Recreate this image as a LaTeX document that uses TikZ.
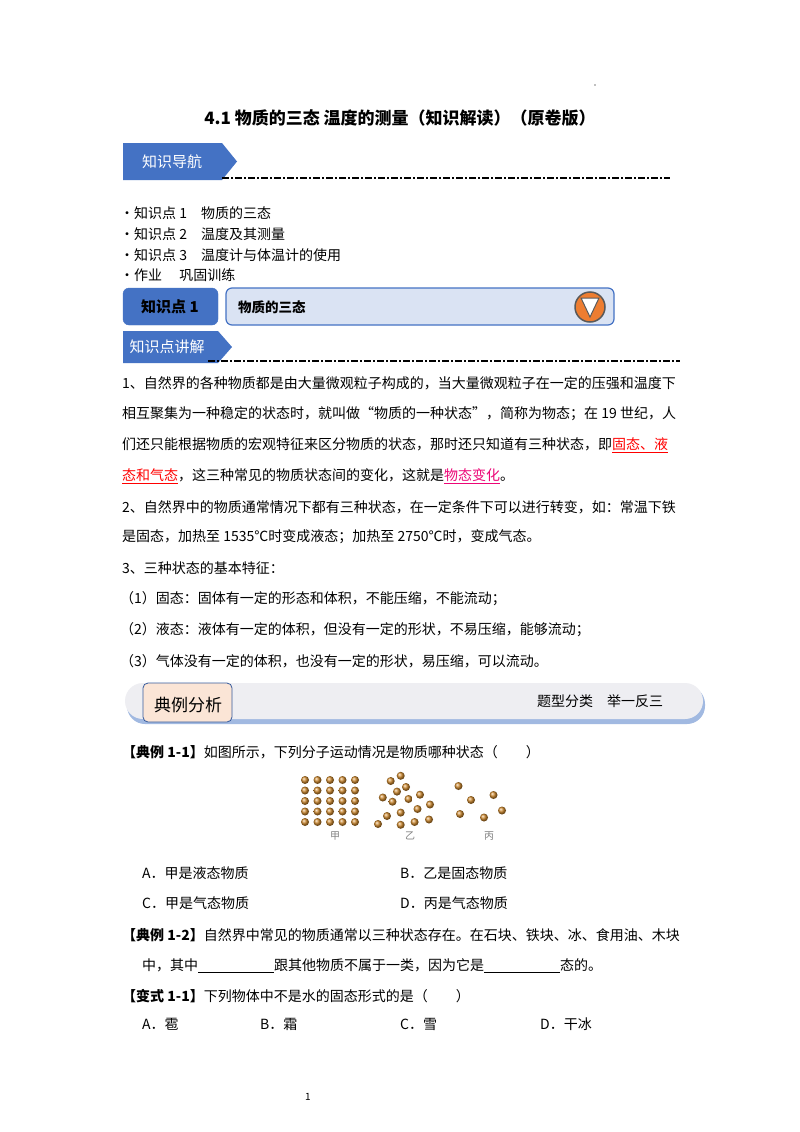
\documentclass[tikz,border=0pt]{standalone}
\usepackage{fontspec}
\setmainfont{Noto Sans CJK SC}
\definecolor{bannerblue}{HTML}{4472C4}
\definecolor{lightblue}{HTML}{DAE3F3}
\definecolor{peach}{HTML}{FBE5D6}
\definecolor{ballc}{HTML}{D08A2E}
\definecolor{orangec}{HTML}{ED7D31}
\definecolor{grayband}{HTML}{EEEEF2}
\tikzset{
  txt/.style={anchor=west,inner sep=0pt,font=\fontsize{14}{14}\selectfont},
  ban/.style={anchor=center,inner sep=0pt,text=white,font=\fontsize{15}{15}\selectfont},
  dashline/.style={line width=1.6pt,dash pattern=on 7pt off 2pt on 2pt off 2pt},
  ball/.style={circle,inner sep=0pt,minimum size=8pt,ball color=ballc,draw=none},
}
\newcommand{\redu}[1]{\textcolor{red}{\underline{#1}}}
\newcommand{\blank}[1]{\underline{\hspace{#1}}}
\begin{document}
\begin{tikzpicture}[x=1pt,y=-1pt]
\useasboundingbox (0,0) rectangle (800,1132);
\fill[white] (0,0) rectangle (800,1132);
\fill[gray] (595,85) circle (0.8);
\node[inner sep=0pt,font=\fontsize{17}{17}\selectfont\bfseries] (title) at (400,118) {4.1 物质的三态\ 温度的测量（知识解读）（原卷版）};
% banner 1
\fill[bannerblue] (123,143) -- (222,143) -- (237,161.5) -- (222,180) -- (123,180) -- cycle;
\node[ban] (nav) at (172,161.5) {知识导航};
\draw[dashline] (222,178) -- (670,178);
\node[txt] (l1) at (120,213) {•知识点 1\quad 物质的三态};
\node[txt] (l2) at (120,234) {•知识点 2\quad 温度及其测量};
\node[txt] (l3) at (120,255) {•知识点 3\quad 温度计与体温计的使用};
\node[txt] (l4) at (120,275) {•作业\quad\ 巩固训练};
% knowledge point 1
\filldraw[fill=bannerblue,draw=bannerblue,rounded corners=6pt] (123,288) rectangle (218,325);
\node[inner sep=0pt,font=\fontsize{15}{15}\selectfont\bfseries] (kp) at (170,307) {知识点 1};
\filldraw[fill=lightblue,draw=bannerblue,line width=1.2pt,rounded corners=6pt] (226,288) rectangle (614,325);
\node[txt,font=\fontsize{13.5}{14}\selectfont\bfseries] (kpt) at (238,307) {物质的三态};
\filldraw[fill=orangec,draw=gray!70!black,line width=1.5pt] (590,307) circle (15);
\filldraw[fill=white,draw=gray!70!black,line width=1pt] (581,298) -- (599,298) -- (590,317) -- cycle;
% banner 2
\fill[bannerblue] (123,331) -- (218,331) -- (232,347) -- (218,363) -- (123,363) -- cycle;
\node[ban] (jj) at (167,347) {知识点讲解};
\draw[dashline] (208,361) -- (680,361);
% paragraphs
\node[txt] (p1) at (122,383) {1、自然界的各种物质都是由大量微观粒子构成的，当大量微观粒子在一定的压强和温度下};
\node[txt] (p2) at (122,414) {相互聚集为一种稳定的状态时，就叫做“物质的一种状态”，简称为物态；在 19 世纪，人};
\node[txt] (p3) at (122,445) {们还只能根据物质的宏观特征来区分物质的状态，那时还只知道有三种状态，即\redu{固态、液}};
\node[txt] (p4) at (122,476) {\redu{态和气态}，这三种常见的物质状态间的变化，这就是\textcolor{magenta!80!red}{\underline{物态变化}}。};
\node[txt] (p5) at (122,507) {2、自然界中的物质通常情况下都有三种状态，在一定条件下可以进行转变，如：常温下铁};
\node[txt] (p6) at (122,537) {是固态，加热至 1535℃时变成液态；加热至 2750℃时，变成气态。};
\node[txt] (p7) at (122,568) {3、三种状态的基本特征：};
\node[txt] (p8) at (120,599) {（1）固态：固体有一定的形态和体积，不能压缩，不能流动；};
\node[txt] (p9) at (120,630) {（2）液态：液体有一定的体积，但没有一定的形状，不易压缩，能够流动；};
\node[txt] (p10) at (120,661) {（3）气体没有一定的体积，也没有一定的形状，易压缩，可以流动。};
% example band
\fill[bannerblue!50,rounded corners=18pt] (127,686) rectangle (705,724);
\fill[grayband,rounded corners=18pt] (125,683) rectangle (703,719);
\filldraw[fill=peach,draw=bannerblue!80!black,line width=0.8pt,rounded corners=5pt] (143,683) rectangle (232,722);
\node[inner sep=0pt,font=\fontsize{17}{17}\selectfont] (dl) at (188,705) {典例分析};
\node[inner sep=0pt,font=\fontsize{14}{14}\selectfont] (tx) at (600,701) {题型分类\quad 举一反三};
\node[txt] (e1) at (122,752) {\textbf{【典例 1-1】}如图所示，下列分子运动情况是物质哪种状态（\qquad ）};
% particles
\foreach \i in {0,...,4}{\foreach \j in {0,...,4}{
  \draw[gray!40] (305+12.5*\i-3,780+10.5*\j) -- (305+12.5*\i+3,780+10.5*\j);
  \node[ball] at (305+12.5*\i,780+10.5*\j) {};}}
\foreach \p in {(400.7,775.8),(390.7,781),(406,787),(397,791.6),(382.8,797.5),(408.5,799),(420,794.7),(392.5,801.7),(430,804.5),(417.5,809),(400.7,812.6),(387,816),(378,824),(400.7,824.8),(414.6,822),(429,819.5)}
  \node[ball] at \p {};
\foreach \p in {(458.5,786),(471,800),(493.5,795),(460,814),(484,817.5),(502,810.5)}
  \node[ball] at \p {};
\node[inner sep=0pt,font=\fontsize{10}{10}\selectfont,text=gray] (ja) at (335,836) {甲};
\node[inner sep=0pt,font=\fontsize{10}{10}\selectfont,text=gray] (yi) at (410,836) {乙};
\node[inner sep=0pt,font=\fontsize{10}{10}\selectfont,text=gray] (bing) at (489,836) {丙};
\node[txt] (oa) at (142,873) {A．甲是液态物质};
\node[txt] (ob) at (400,873) {B．乙是固态物质};
\node[txt] (oc) at (142,903) {C．甲是气态物质};
\node[txt] (od) at (400,903) {D．丙是气态物质};
\node[txt] (e2) at (122,935) {\textbf{【典例 1-2】}自然界中常见的物质通常以三种状态存在。在石块、铁块、冰、食用油、木块};
\node[txt] (e2b) at (142,966) {中，其中\blank{76pt}跟其他物质不属于一类，因为它是\blank{76pt}态的。};
\node[txt] (e3) at (122,996) {\textbf{【变式 1-1】}下列物体中不是水的固态形式的是（\qquad ）};
\node[txt] (qa) at (142,1024) {A．雹};
\node[txt] (qb) at (260,1024) {B．霜};
\node[txt] (qc) at (400,1024) {C．雪};
\node[txt] (qd) at (540,1024) {D．干冰};
\node[inner sep=0pt,font=\fontsize{10}{10}\selectfont] (pg) at (308,1097) {1};
\end{tikzpicture}
\end{document}
